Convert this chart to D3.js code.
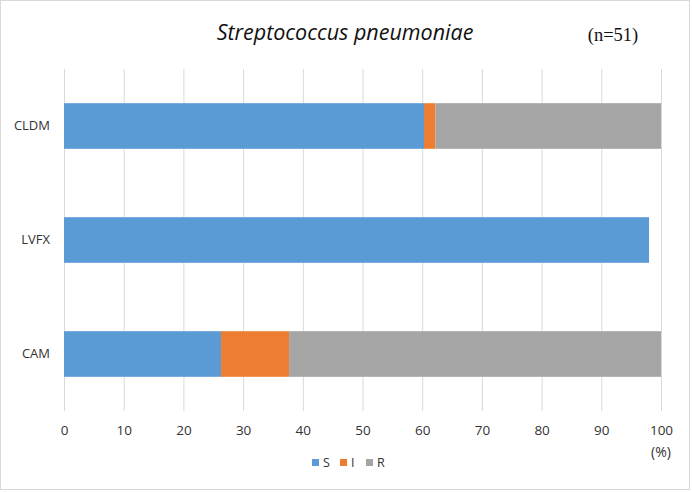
<!DOCTYPE html>
<html><head><meta charset="utf-8">
<script src="https://cdn.jsdelivr.net/npm/d3@7"></script>
<style>body{margin:0;background:#fff}svg{display:block}</style>
</head><body>
<script>
const categories = ["CLDM", "LVFX", "CAM"];
const seriesNames = ["S", "I", "R"];
const sValues = [60.3, 98.0, 26.3];
const iValues = [1.9, 0, 11.4];
const rValues = [37.8, 0, 62.3];
const xTicks = [0,10,20,30,40,50,60,70,80,90,100];
const colors = ["#5B9BD5", "#ED7D31", "#A5A5A5"];

const W = 692, H = 492;
const svg = d3.select("body").append("svg").attr("width", W).attr("height", H);
svg.append("rect").attr("x",0.5).attr("y",0.5).attr("width",689).attr("height",489)
  .attr("fill","#fff").attr("stroke","#D9D9D9");

const x = d3.scaleLinear().domain([0,100]).range([64,661]);
const y = d3.scaleBand().domain(categories).range([69,411]).paddingInner(0.6).paddingOuter(0.3);

svg.append("g").selectAll("line").data(xTicks).join("line")
  .attr("x1", d=>x(d)+0.5).attr("x2", d=>x(d)+0.5).attr("y1",69).attr("y2",411)
  .attr("stroke","#D9D9D9").attr("stroke-width",1);

const data = categories.map((c,i)=>({cat:c, S:sValues[i], I:iValues[i], R:rValues[i]}));
const stack = d3.stack().keys(seriesNames)(data);
svg.append("g").selectAll("g").data(stack).join("g").attr("fill",(d,i)=>colors[i])
  .selectAll("rect").data(d=>d).join("rect")
  .attr("x", d=>x(d[0])).attr("width", d=>Math.max(0,x(d[1])-x(d[0])))
  .attr("y", d=>y(d.data.cat)).attr("height", y.bandwidth());

const font = "'Open Sans', 'Liberation Sans', sans-serif";
const xa = d3.axisBottom(x).tickValues(xTicks).tickSize(0).tickPadding(0);
const gx = svg.append("g").attr("transform","translate(0,425)").call(xa);
gx.select(".domain").remove();
gx.selectAll("text").attr("fill","#333").style("font-family",font).style("font-size","13.5px").attr("dy","0.71em").attr("y",0);

svg.append("text").attr("x", x(100)).attr("y", 457).attr("text-anchor","middle")
  .style("font-family",font).style("font-size","14px").attr("fill","#333").text("(%)");

const ya = d3.axisLeft(y).tickSize(0).tickPadding(14);
const gy = svg.append("g").attr("transform","translate(64,0)").call(ya);
gy.select(".domain").remove();
gy.selectAll("text").attr("fill","#333").style("font-family",font).style("font-size","13px");

svg.append("text").attr("x",345).attr("y",40).attr("text-anchor","middle")
  .style("font-family",font).style("font-style","italic").style("font-size","21.5px").attr("fill","#111")
  .text("Streptococcus pneumoniae");
svg.append("text").attr("x",613).attr("y",41).attr("text-anchor","middle")
  .style("font-family","'Liberation Serif', serif").style("font-size","18.5px").attr("fill","#111")
  .text("(n=51)");

const legX = [312, 340, 366];
const lg = svg.append("g").selectAll("g").data(seriesNames).join("g")
  .attr("transform",(d,i)=>`translate(${legX[i]},0)`);
lg.append("rect").attr("x",0).attr("y",459).attr("width",7).attr("height",7).attr("fill",(d,i)=>colors[i]);
lg.append("text").attr("x",11).attr("y",467).style("font-family",font).style("font-size","12.5px").attr("fill","#333").text(d=>d);
</script>
</body></html>
